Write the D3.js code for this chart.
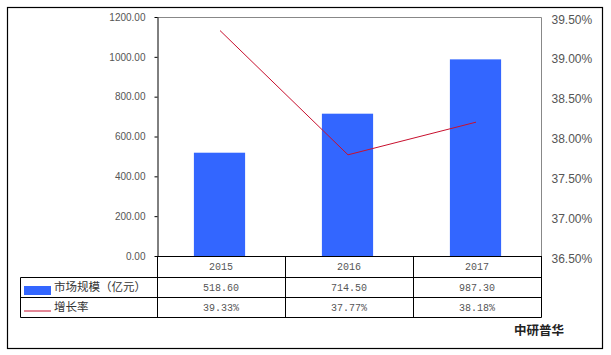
<!DOCTYPE html>
<html><head><meta charset="utf-8">
<script src="https://cdn.jsdelivr.net/npm/d3@7"></script>
<style>body{margin:0;background:#fff;}</style>
</head><body>
<svg id="c" width="611" height="355"></svg>
<script>
const years = ["2015", "2016", "2017"];
const marketSize = [518.60, 714.50, 987.30];
const growthRate = [39.33, 37.77, 38.18];
const leftTicks = [0, 200, 400, 600, 800, 1000, 1200];
const rightTicks = [36.5, 37.0, 37.5, 38.0, 38.5, 39.0, 39.5];
const seriesNames = ["市场规模（亿元）", "增长率"];
const sourceLabel = "中研普华";

const svg = d3.select("#c");
const L = 157, R = 541, T = 17, B = 256;
const barColor = "#3366ff", lineColor = "#c8102e";

// outer border
svg.append("rect").attr("x", 7.5).attr("y", 7.5).attr("width", 595).attr("height", 341)
  .attr("fill", "none").attr("stroke", "#000").attr("stroke-width", 1.2);

const x = d3.scaleBand().domain(years).range([L, R]).paddingInner(0).paddingOuter(0);
const yL = d3.scaleLinear().domain([0, 1200]).range([B, T]);
const yR = d3.scaleLinear().domain([36.5, 39.5]).range([B, T]);

// plot frame (top and right grey)
svg.append("path").attr("d", `M${L},${T+0.5}H${R+0.5}V${B}`).attr("fill", "none")
  .attr("stroke", "#888").attr("stroke-width", 1);

// bars
const bw = x.bandwidth() * 0.4;
svg.selectAll("rect.bar").data(years).enter().append("rect")
  .attr("x", d => x(d) + x.bandwidth() / 2 - bw / 2 - 1.5)
  .attr("y", (d, i) => yL(marketSize[i]))
  .attr("width", bw)
  .attr("height", (d, i) => B - yL(marketSize[i]))
  .attr("fill", barColor);

// left axis
const axL = svg.append("g").attr("transform", `translate(${L + 0.5},0)`)
  .call(d3.axisLeft(yL).tickValues(leftTicks).tickFormat(d3.format(".2f")).tickSize(3).tickSizeOuter(0));
axL.select(".domain").attr("stroke", "#000");
axL.selectAll(".tick line").attr("stroke", "#000");
axL.selectAll("text").attr("x", -12).attr("fill", "#555")
  .style("font-family", "Liberation Sans, Arial, sans-serif").style("font-size", "10px");

// right axis
const axR = svg.append("g").attr("transform", `translate(${R + 0.5},0)`)
  .call(d3.axisRight(yR).tickValues(rightTicks).tickFormat(d => d.toFixed(2) + "%").tickSize(0).tickSizeOuter(0));
axR.select(".domain").attr("stroke", "none");
axR.selectAll("text").attr("x", 10).attr("dy", "0.5em").attr("fill", "#555")
  .style("font-family", "Liberation Sans, Arial, sans-serif").style("font-size", "12px");

// line
const line = d3.line().x((d, i) => x(years[i]) + x.bandwidth() / 2 - 1).y(d => yR(d));
svg.append("path").datum(growthRate).attr("d", line).attr("fill", "none")
  .attr("stroke", lineColor).attr("stroke-width", 1);

// table
const rowY = [B, 277, 297, 317];
const tbl = svg.append("g").attr("stroke", "#000").attr("stroke-width", 1).attr("fill", "none");
tbl.append("line").attr("x1", L).attr("x2", R + 0.5).attr("y1", B + 0.5).attr("y2", B + 0.5);
[1, 2, 3].forEach(k => {
  tbl.append("line").attr("x1", 20.5).attr("x2", R + 0.5).attr("y1", rowY[k] + 0.5).attr("y2", rowY[k] + 0.5);
});
tbl.append("line").attr("x1", 20.5).attr("x2", 20.5).attr("y1", rowY[1] + 0.5).attr("y2", rowY[3] + 0.5);
const colX = [L].concat(years.map(y => x(y) + x.bandwidth()));
colX.forEach(cx => {
  tbl.append("line").attr("x1", cx + 0.5).attr("x2", cx + 0.5).attr("y1", B).attr("y2", rowY[3] + 0.5);
});

const cellFont = "Liberation Mono, DejaVu Sans Mono, monospace";
const rows = [years, marketSize.map(v => v.toFixed(2)), growthRate.map(v => v.toFixed(2) + "%")];
rows.forEach((r, ri) => {
  svg.selectAll(null).data(r).enter().append("text")
    .attr("x", (d, i) => x(years[i]) + x.bandwidth() / 2)
    .attr("y", (rowY[ri] + rowY[ri + 1]) / 2 + 1)
    .attr("text-anchor", "middle").attr("dominant-baseline", "middle")
    .attr("fill", "#555").style("font-family", cellFont).style("font-size", "10px")
    .text(d => d);
});

// legend cells
svg.append("rect").attr("x", 24).attr("y", 286).attr("width", 27).attr("height", 9).attr("fill", barColor);
svg.append("line").attr("x1", 24).attr("x2", 51).attr("y1", 311).attr("y2", 311)
  .attr("stroke", lineColor).attr("stroke-width", 1);
seriesNames.forEach((n, i) => {
  svg.append("text").attr("x", 54).attr("y", (rowY[i + 1] + rowY[i + 2]) / 2 + 1)
    .attr("dominant-baseline", "middle").attr("fill", "#333")
    .style("font-family", "Noto Sans CJK SC, sans-serif").style("font-size", "11.5px")
    .text(n);
});

// source
svg.append("text").attr("x", 539).attr("y", 332).attr("text-anchor", "middle")
  .attr("dominant-baseline", "middle").attr("fill", "#222")
  .style("font-family", "Noto Sans CJK SC, sans-serif").style("font-size", "12.5px").style("font-weight", "bold")
  .text(sourceLabel);
</script>
</body></html>
